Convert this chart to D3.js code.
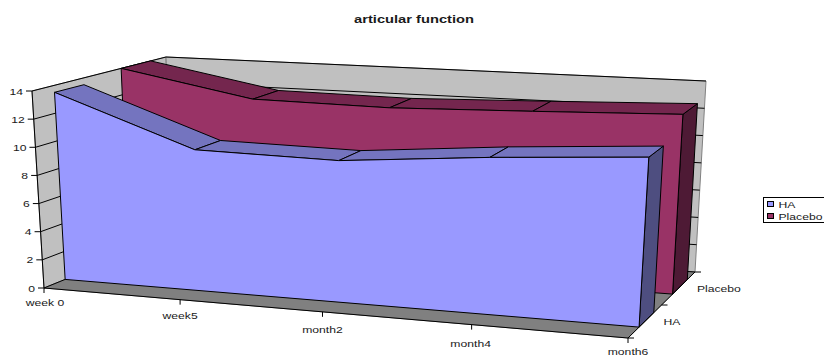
<!DOCTYPE html>
<html>
<head>
<meta charset="utf-8">
<style>
html,body{margin:0;padding:0;background:#fff;overflow:hidden}
svg{display:block}
text{font-family:"Liberation Sans",Arial,sans-serif;fill:#1a1a1a}
</style>
<script src="https://cdnjs.cloudflare.com/ajax/libs/d3/7.8.5/d3.min.js"></script>
</head>
<body>
<svg id="chart" width="824" height="356"></svg>
<script>
const categories = ["week 0", "week5", "month2", "month4", "month6"];
const seriesNames = ["HA", "Placebo"];
const haValues = [13.5, 10, 9.9, 10.8, 11.5];
const placeboValues = [14, 12.2, 12.1, 12.4, 12.75];
const titleText = "articular function";

// Corners of the plot box on screen: front/back, left/right, bottom/top.
const box = {
  flb: [44, 288],  flt: [32, 91],
  frb: [628, 338], frt: [640, 128],
  blb: [172, 236], blt: [166, 57],
  brb: [695, 272], brt: [706, 81]
};

const xPoint = d3.scalePoint().domain(categories).range([0, 1]);
const yScale = d3.scaleLinear().domain([0, 14]).range([0, 1]);
const zBand = d3.scaleBand().domain(seriesNames).range([0, 1])
  .paddingInner(0.56).paddingOuter(0.28).align(0.59);

// Foreshortening along the category axis.
const warp = t => t / (t + 1.097 * (1 - t));
const mix = (a, b, t) => [a[0] + (b[0] - a[0]) * t, a[1] + (b[1] - a[1]) * t];

// Maps box coordinates (each 0..1) to a screen position.
function project(u, v, w) {
  const fb = mix(box.flb, box.frb, u), ft = mix(box.flt, box.frt, u);
  const bb = mix(box.blb, box.brb, u), bt = mix(box.blt, box.brt, u);
  return mix(mix(fb, ft, v), mix(bb, bt, v), w);
}
const at = (cat, val, w) => project(warp(xPoint(cat)), yScale(val), w);

const svg = d3.select("#chart");
const poly = (pts, fill, stroke, sw) => svg.append("path")
  .attr("d", d3.line()(pts) + "Z")
  .attr("fill", fill).attr("stroke", stroke || "none")
  .attr("stroke-width", sw === undefined ? 1 : sw)
  .attr("stroke-linejoin", "round");
const seg = (a, b, stroke, sw) => svg.append("line")
  .attr("x1", a[0]).attr("y1", a[1]).attr("x2", b[0]).attr("y2", b[1])
  .attr("stroke", stroke || "#000").attr("stroke-width", sw || 1);
const label = (s, x, y, anchor, opts = {}) => svg.append("text")
  .attr("transform", `translate(${x},${y}) scale(${opts.sx || 1.28},1)`)
  .attr("text-anchor", anchor || "middle")
  .attr("font-size", opts.size || 9.5)
  .attr("font-weight", opts.weight || "normal")
  .text(s);

// Walls and floor
const wallStroke = "#808080";
poly([box.flb, box.flt, box.blt, box.blb], "#c0c0c0", wallStroke);
poly([box.blb, box.blt, box.brt, box.brb], "#c0c0c0", wallStroke);
poly([box.flb, box.frb, box.brb, box.blb], "#808080", "#808080");

// Gridlines on the left and back walls
const valueTicks = yScale.ticks(7);
valueTicks.forEach(v => {
  seg(project(0, yScale(v), 0), project(0, yScale(v), 1));
  seg(project(0, yScale(v), 1), project(1, yScale(v), 1));
});

// Each series is an extruded ribbon: side cap, top faces, front face.
function ribbon(name, values, colors) {
  const w0 = zBand(name), w1 = w0 + zBand.bandwidth();
  const last = categories.length - 1;
  poly([at(categories[last], values[last], w0), at(categories[last], values[last], w1),
        at(categories[last], 0, w1), at(categories[last], 0, w0)], colors.side, "#000");
  d3.pairs(categories.map((c, i) => i)).forEach(([i, j]) => {
    poly([at(categories[i], values[i], w0), at(categories[i], values[i], w1),
          at(categories[j], values[j], w1), at(categories[j], values[j], w0)], colors.top, "#000");
  });
  const front = categories.map((c, i) => at(c, values[i], w0));
  poly(front.concat([at(categories[last], 0, w0), at(categories[0], 0, w0)]), colors.front, "#000");
}
ribbon("Placebo", placeboValues, {front: "#993366", top: "#74264e", side: "#4e1a35"});
ribbon("HA", haValues, {front: "#9999ff", top: "#7474bf", side: "#4e4e80"});

// Box edges drawn over the marks
seg(box.flb, box.flt);
seg(box.flb, box.frb);
seg(box.frb, box.brb);

// Value axis
valueTicks.forEach(v => {
  const p = project(0, yScale(v), 0);
  seg(p, [p[0] - 6, p[1]]);
  label(String(v), p[0] - 9, p[1] + 3.5, "end");
});

// Category axis, with labels set just below their ticks
const catLabelOffset = [[1, 18], [0, 19], [0, 21], [-1, 22], [0, 17]];
categories.forEach((c, i) => {
  const p = project(warp(xPoint(c)), 0, 0);
  seg(p, [p[0], p[1] + 5]);
  label(c, p[0] + catLabelOffset[i][0], p[1] + catLabelOffset[i][1], "middle");
});

// Series axis
[0, 0.5, 1].forEach(w => {
  const p = project(1, 0, w);
  seg(p, [p[0] + 6, p[1]]);
});
seriesNames.forEach(s => {
  const p = project(1, 0, zBand(s) + zBand.bandwidth() / 2);
  label(s, p[0] + 17, p[1] + 5, "start");
});

// Title
label(titleText, 414, 23, "middle", {weight: "bold", size: 10.5, sx: 1.4});

// Legend
svg.append("rect").attr("x", 763.5).attr("y", 197.5).attr("width", 62).attr("height", 25)
  .attr("fill", "#fff").attr("stroke", "#000");
const legendColors = ["#9999ff", "#993366"];
seriesNames.forEach((s, i) => {
  svg.append("rect").attr("x", 767.5).attr("y", 201.5 + 12 * i).attr("width", 6).attr("height", 5)
    .attr("fill", legendColors[i]).attr("stroke", "#000");
  label(s, 778.5, 208 + 12 * i, "start");
});
</script>
</body>
</html>
